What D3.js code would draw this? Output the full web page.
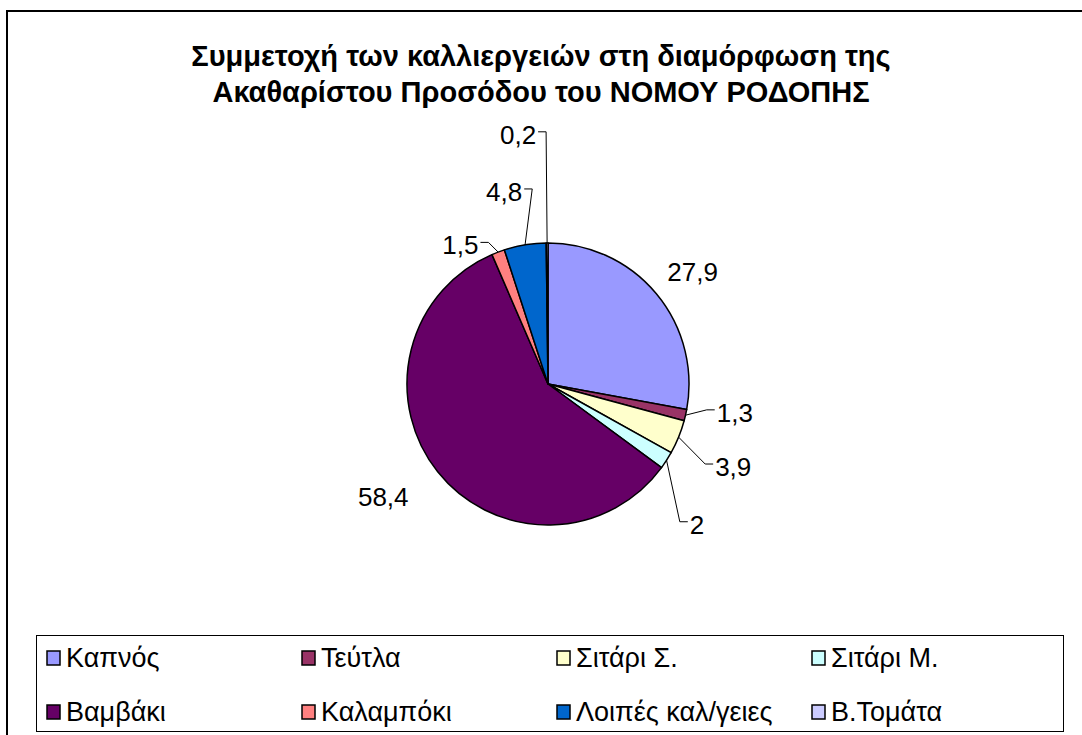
<!DOCTYPE html>
<html>
<head>
<meta charset="utf-8">
<script src="https://cdn.jsdelivr.net/npm/d3@7"></script>
<style>
  body { margin: 0; background: #fff; }
  text { font-family: "Liberation Sans", Arial, sans-serif; }
</style>
</head>
<body>
<div id="chart"></div>
<script>
// data
var crops = ["Καπνός", "Τεύτλα", "Σιτάρι Σ.", "Σιτάρι Μ.", "Βαμβάκι", "Καλαμπόκι", "Λοιπές καλ/γειες", "Β.Τομάτα"];
var shares = [27.9, 1.3, 3.9, 2, 58.4, 1.5, 4.8, 0.2];
var colors = ["#9999FF", "#993366", "#FFFFCC", "#CCFFFF", "#660066", "#FF8080", "#0066CC", "#CCCCFF"];
var titleLines = ["Συμμετοχή των καλλιεργειών στη διαμόρφωση της", "Ακαθαρίστου Προσόδου του ΝΟΜΟΥ ΡΟΔΟΠΗΣ"];

// label placement (distance from centre, angle nudge in degrees, leader line?)
var labelDist = [183, 189, 203, 205, 200, 164, 197, 251];
var labelNudge = [2, -4, 2, 10.6, 4, -11.6, -3.5, -6.5];
var labelLeader = [false, true, true, true, false, true, true, true];

var width = 1082, height = 735;
var cx = 548, cy = 384, radius = 141;

var svg = d3.select("#chart")
  .append("svg")
    .attr("width", width)
    .attr("height", height);

// outer frame (only left and top edges show)
svg.append("path")
  .attr("d", "M7,735 L7,11 L1082,11")
  .attr("fill", "none")
  .attr("stroke", "#000")
  .attr("stroke-width", 2);

// title
svg.append("g")
  .selectAll("text")
  .data(titleLines)
  .enter()
  .append("text")
    .attr("x", 541)
    .attr("y", function(d, i) { return 66 + i * 36; })
    .attr("text-anchor", "middle")
    .attr("font-size", "29px")
    .attr("font-weight", "bold")
    .text(function(d) { return d; });

var pie = d3.pie().sort(null).value(function(d) { return d; });
var arcs = pie(shares);

var arc = d3.arc().innerRadius(0).outerRadius(radius);

var g = svg.append("g")
  .attr("transform", "translate(" + cx + "," + cy + ")");

g.selectAll("path.slice")
  .data(arcs)
  .enter()
  .append("path")
    .attr("class", "slice")
    .attr("d", arc)
    .attr("fill", function(d, i) { return colors[i]; })
    .attr("stroke", "#000")
    .attr("stroke-width", 1.5)
    .attr("stroke-linejoin", "round");

var fmt = function(v) { return String(v).replace(".", ","); };

// labels
var labels = arcs.map(function(d, i) {
  var mid = (d.startAngle + d.endAngle) / 2;
  var a = mid + labelNudge[i] * Math.PI / 180;
  return {
    i: i,
    mid: mid,
    x: Math.sin(a) * labelDist[i],
    y: -Math.cos(a) * labelDist[i],
    text: fmt(shares[i])
  };
});

var lt = g.selectAll("text.lbl")
  .data(labels)
  .enter()
  .append("text")
    .attr("class", "lbl")
    .attr("x", function(d) { return d.x; })
    .attr("y", function(d) { return d.y; })
    .attr("dy", "0.35em")
    .attr("text-anchor", "middle")
    .attr("font-size", "26px")
    .text(function(d) { return d.text; });

// leader lines: arc point -> elbow -> label edge
lt.each(function(d) {
  if (!labelLeader[d.i]) return;
  var bb = this.getBBox();
  var side = d.x > 0 ? -1 : 1;
  var ex = side < 0 ? bb.x - 2 : bb.x + bb.width + 2;
  var ey = d.y - 3;
  var px = Math.sin(d.mid) * radius, py = -Math.cos(d.mid) * radius;
  g.append("path")
    .attr("d", "M" + px + "," + py + " L" + (ex + side * 8) + "," + ey + " L" + ex + "," + ey)
    .attr("fill", "none")
    .attr("stroke", "#000")
    .attr("stroke-width", 1);
});

// legend
var legend = svg.append("g");
legend.append("rect")
  .attr("x", 36.5).attr("y", 635.5)
  .attr("width", 1027).attr("height", 96)
  .attr("fill", "#fff")
  .attr("stroke", "#000")
  .attr("stroke-width", 1);

var colX = d3.scaleBand().domain(d3.range(4)).range([47, 1067]);
var rowY = d3.scaleBand().domain(d3.range(2)).range([651, 759]);

var items = legend.selectAll("g.item")
  .data(crops)
  .enter()
  .append("g")
    .attr("class", "item")
    .attr("transform", function(d, i) {
      return "translate(" + colX(i % 4) + "," + rowY(Math.floor(i / 4)) + ")";
    });

items.append("rect")
  .attr("width", 13).attr("height", 14)
  .attr("fill", function(d, i) { return colors[i]; })
  .attr("stroke", "#000")
  .attr("stroke-width", 1.5);

items.append("text")
  .attr("x", 19)
  .attr("y", 16)
  .attr("font-size", "27px")
  .text(function(d) { return d; });
</script>
</body>
</html>
